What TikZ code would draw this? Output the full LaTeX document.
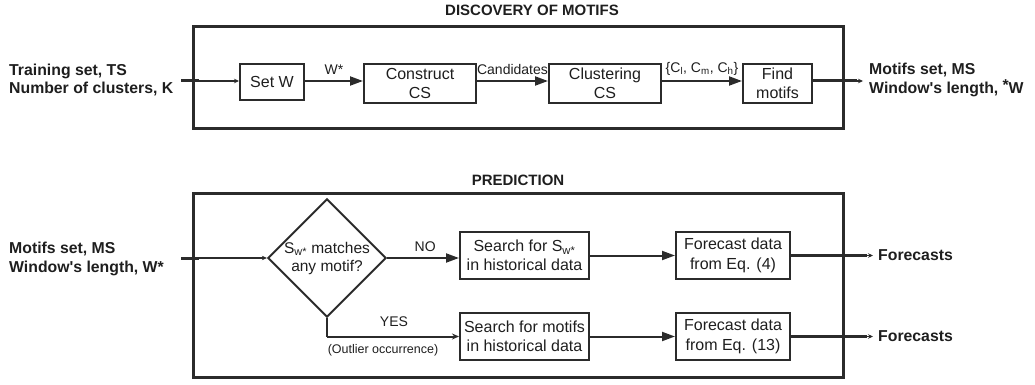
\documentclass[tikz,border=0pt]{standalone}
\usepackage{fontspec}
\setmainfont{Liberation Sans}
\usetikzlibrary{arrows.meta,shapes.geometric}
\definecolor{ink}{HTML}{2B2B2B}
\definecolor{txt}{HTML}{1E1E1E}
\tikzset{
  x=1pt,y=-1pt,
  frame/.style={draw=ink,line width=3pt},
  procbox/.style={draw=ink,line width=2pt,align=center,inner sep=0pt,text=txt,
    font=\fontsize{16}{19.5}\selectfont},
  flow/.style={draw=ink,line width=2pt,-{Triangle[length=13pt,width=9pt]}},
  thickout/.style={draw=ink,line width=3pt},
  thinarrow/.style={draw=ink,line width=1.4pt,-{Stealth[length=5pt,width=4.5pt]}},
  iolabel/.style={font=\bfseries\fontsize{15.8}{18.5}\selectfont,text=txt,align=left,inner sep=0pt},
  edgelabel/.style={font=\fontsize{14}{16}\selectfont,text=txt,inner sep=0pt},
  title/.style={font=\bfseries\fontsize{15}{17}\selectfont,text=txt,inner sep=0pt},
}
\begin{document}
\begin{tikzpicture}
\useasboundingbox (0,0) rectangle (1035,385);
% ---------- Discovery of motifs ----------
\node[title] (t1) at (532,10) {DISCOVERY OF MOTIFS};
\draw[frame] (193,27) rectangle (843,128);
\node[procbox,minimum width=64pt,minimum height=36pt] (setw) at (272,82) {Set W};
\node[procbox,minimum width=112pt,minimum height=39pt] (cons) at (420,83.5) {Construct\\CS};
\node[procbox,minimum width=112pt,minimum height=39pt] (clus) at (605,83.5) {Clustering\\CS};
\node[procbox,minimum width=69pt,minimum height=39pt] (find) at (777.5,83.5) {Find\\motifs};
\node[iolabel,anchor=west] (in1) at (9,80) {Training set, TS\\Number of clusters, K};
\node[iolabel,anchor=west] (out1) at (869,80) {Motifs set, MS\\Window\textquotesingle s length, \raisebox{0.3ex}{*}\kern-0.02em W};
\coordinate (a0) at (181,81);
\coordinate (a1) at (199,81);
\coordinate (b0) at (857,81);
\coordinate (b1) at (863,81);
\draw[thickout] (a0) -- (a1);
\draw[thinarrow] (a1) -- (a1 -| setw.west);
\draw[flow] (setw.east |- a1) -- node[edgelabel,above=5pt] {W*} (a1 -| cons.west);
\draw[flow] (cons.east |- a1) -- node[edgelabel,above=5pt] {Candidates} (a1 -| clus.west);
\draw[flow] (clus.east |- a1) -- node[edgelabel,above=5pt] {\{C\textsubscript{l}, C\textsubscript{m}, C\textsubscript{h}\}} (a1 -| find.west);
\draw[thickout] (find.east |- b0) -- (b0);
\draw[thinarrow] (b0) -- (b1);
% ---------- Prediction ----------
\node[title] (t2) at (518,180) {PREDICTION};
\draw[frame] (193,193) rectangle (843,377);
\node[draw=ink,line width=2pt,diamond,minimum width=114pt,minimum height=112pt,inner sep=0pt,
  align=center,text=txt,font=\fontsize{15.5}{18}\selectfont] (dec) at (327,258)
  {S\textsubscript{w*} matches\\any motif?};
\node[procbox,minimum width=129pt,minimum height=47pt] (s1) at (524.5,255.5) {Search for S\textsubscript{w*}\\in historical data};
\node[procbox,minimum width=114pt,minimum height=47pt] (f1) at (733,255.5) {Forecast data\\from Eq. (4)};
\node[procbox,minimum width=129pt,minimum height=47pt] (s2) at (524.5,336.5) {Search for motifs\\in historical data};
\node[procbox,minimum width=114pt,minimum height=47pt] (f2) at (733,336.5) {Forecast data\\from Eq. (13)};
\node[iolabel,anchor=west] (in2) at (9,259) {Motifs set, MS\\Window\textquotesingle s length, W*};
\node[iolabel,anchor=west] (fc1) at (878,255.5) {Forecasts};
\node[iolabel,anchor=west] (fc2) at (878,336.5) {Forecasts};
\coordinate (c0) at (181,258);
\coordinate (c1) at (199,258);
\draw[thickout] (c0) -- (c1);
\draw[thinarrow] (c1) -- (dec.west);
\draw[flow] (dec.east) -- node[edgelabel,above=5pt,pos=0.53] {NO} (dec.east -| s1.west);
\coordinate (yc) at (dec.south |- s2);
\draw[draw=ink,line width=2pt] (dec.south) -- (yc);
\draw[thinarrow,line width=2pt,-{Stealth[length=7pt,width=6pt]}] (yc) -- (s2.west);
\node[edgelabel] (yes) at (394,322) {YES};
\node[edgelabel,font=\fontsize{12.5}{15}\selectfont] (outl) at (383,350) {(Outlier occurrence)};
\draw[flow] (s1.east) -- (f1.west);
\draw[flow] (s2.east) -- (f2.west);
\coordinate (d0) at (867,255.5);
\coordinate (d1) at (873,255.5);
\coordinate (e0) at (867,336.5);
\coordinate (e1) at (873,336.5);
\draw[thickout] (f1.east) -- (d0);
\draw[thinarrow] (d0) -- (d1);
\draw[thickout] (f2.east) -- (e0);
\draw[thinarrow] (e0) -- (e1);
\end{tikzpicture}
\end{document}
